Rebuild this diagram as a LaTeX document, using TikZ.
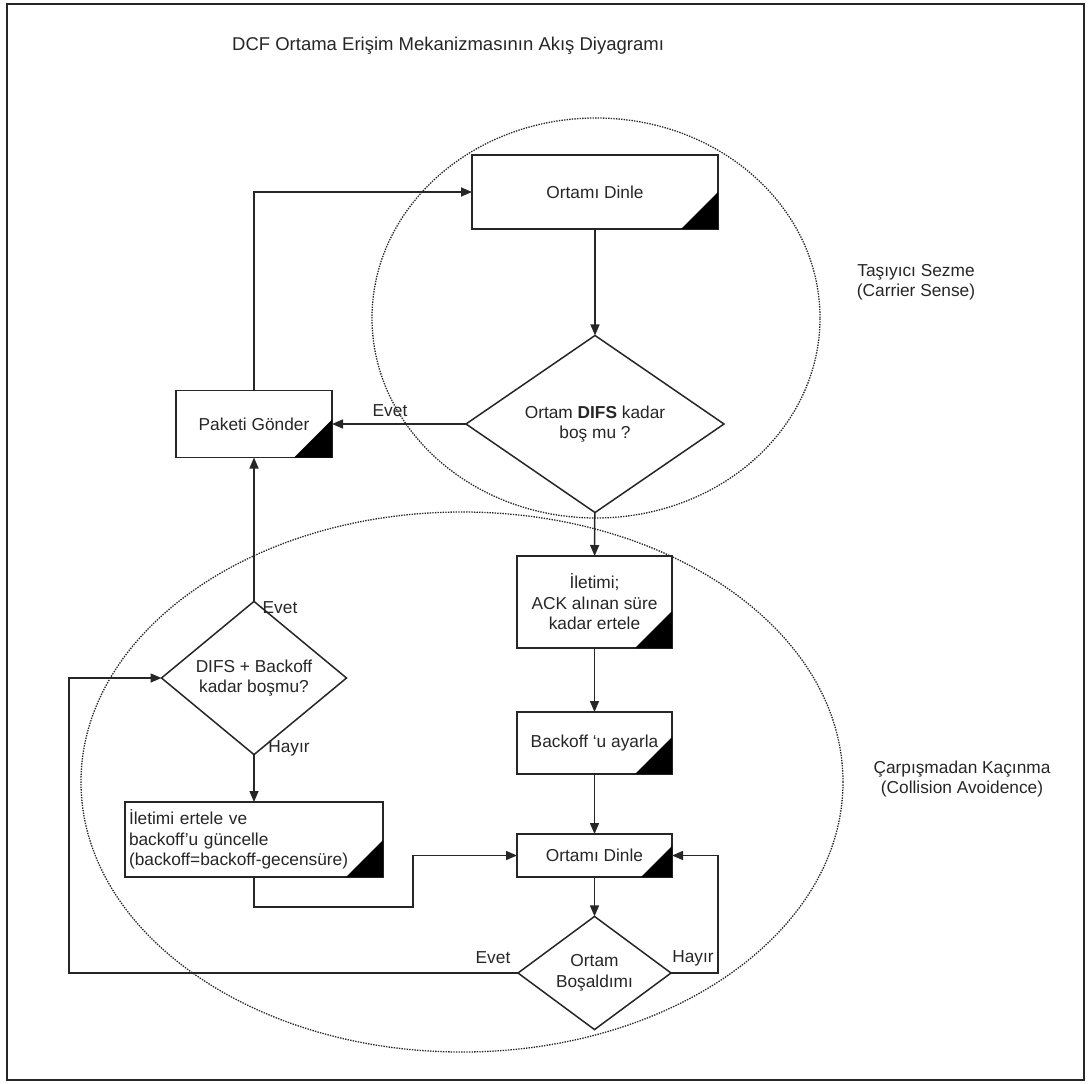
\documentclass[tikz,border=0pt]{standalone}
\usepackage{fontspec}
\setmainfont{Liberation Sans}
\usetikzlibrary{shapes.geometric,arrows.meta}

% black corner mark in the lower right of a process box
\newcommand\darkcorner[2]{\fill[black] (#1.south east) -- ++(-#2,0) -- ++(#2,-#2) -- cycle;}

\begin{document}
\begin{tikzpicture}[x=1pt,y=-1pt,
  every node/.style={font=\fontsize{17.3}{20.5}\selectfont, text=black!85},
  box/.style={draw=black!85, line width=1.5pt, fill=white, rectangle,
              inner sep=0pt, outer sep=0pt, align=center},
  dec/.style={draw=black!85, line width=1.5pt, fill=white, diamond,
              inner sep=0pt, outer sep=0pt, align=center},
  zone/.style={draw=black!85, ellipse, line width=1.3pt,
               dash pattern=on 1.4pt off 1.2pt, inner sep=0pt},
  arr/.style={draw=black!85, line width=1.5pt,
              -{Triangle[length=11pt,width=9pt]}},
  lab/.style={inner sep=0pt},
]
\useasboundingbox (0,0) rectangle (1091,1083);
\draw[line width=2pt, black!85] (7,4) rectangle (1084,1080);

% regions
\node[zone, minimum width=448pt, minimum height=400pt] (cs) at (596,318) {};
\node[zone, minimum width=762pt, minimum height=540pt] (ca) at (462,782) {};

% title and region captions
\node[lab, anchor=west, font=\fontsize{18.5}{22}\selectfont] (title) at (232,46)
  {DCF Ortama Erişim Mekanizmasının Akış Diyagramı};
\node[lab, align=center] (cslab) at (916,282) {Taşıyıcı Sezme\\(Carrier Sense)};
\node[lab, align=center] (calab) at (962,779) {Çarpışmadan Kaçınma\\(Collision Avoidence)};

% process boxes
\node[box, minimum width=246pt, minimum height=74pt] (listen1) at (595,192) {Ortamı Dinle};
\node[box, minimum width=156pt, minimum height=67pt] (paket) at (254,424) {Paketi Gönder};
\node[box, minimum width=155pt, minimum height=92pt] (ack) at (594.5,602)
  {İletimi;\\ACK alınan süre\\kadar ertele};
\node[box, minimum width=155pt, minimum height=62pt] (backoff) at (594.5,743) {Backoff ‘u ayarla};
\node[box, minimum width=155pt, minimum height=43pt] (listen2) at (594.5,855.5) {Ortamı Dinle};
\node[box, minimum width=258pt, minimum height=75pt, text width=250pt, align=left]
  (ertele) at (254,839.5)
  {İletimi ertele ve\\backoff’u güncelle\\(backoff=backoff-gecensüre)};

% decisions
\node[dec, minimum width=258pt, minimum height=171pt] (q1) at (595,424)
  {Ortam \textbf{DIFS} kadar\\boş mu ?};
\node[dec, minimum width=185pt, minimum height=110pt] (q2) at (254,678)
  {DIFS + Backoff\\kadar boşmu?};
\node[dec, minimum width=153pt, minimum height=90pt] (q3) at (594.5,973)
  {Ortam\\Boşaldımı};

\darkcorner{listen1}{37}
\darkcorner{paket}{38}
\darkcorner{ack}{37}
\darkcorner{backoff}{37}
\darkcorner{listen2}{31}
\darkcorner{ertele}{37}

% bends of the loops
\coordinate (hr) at (718,973);
\coordinate (hl) at (69,973);
\coordinate (ej) at (413,907);

% connectors
\draw[arr] (listen1) -- (q1);
\draw[arr] (q1) -- (paket);
\draw[arr] (paket) |- (listen1);
\draw[arr] (q1) -- (ack);
\draw[arr] (ack) -- (backoff);
\draw[arr] (backoff) -- (listen2);
\draw[arr] (listen2) -- (q3);
\draw[arr] (q3.east) -- (hr) |- (listen2.east);
\draw[arr] (q3.west) -- (hl) |- (q2.west);
\draw[arr] (q2) -- (paket);
\draw[arr] (q2) -- (ertele);
\draw[arr] (ertele.south) |- (ej) |- (listen2.west);

% branch labels
\node[lab] (evet1) at (390,411) {Evet};
\node[lab] (evet2) at (280,608) {Evet};
\node[lab] (hayir2) at (289,748) {Hayır};
\node[lab] (evet3) at (493,958) {Evet};
\node[lab] (hayir3) at (693,958) {Hayır};
\end{tikzpicture}
\end{document}
